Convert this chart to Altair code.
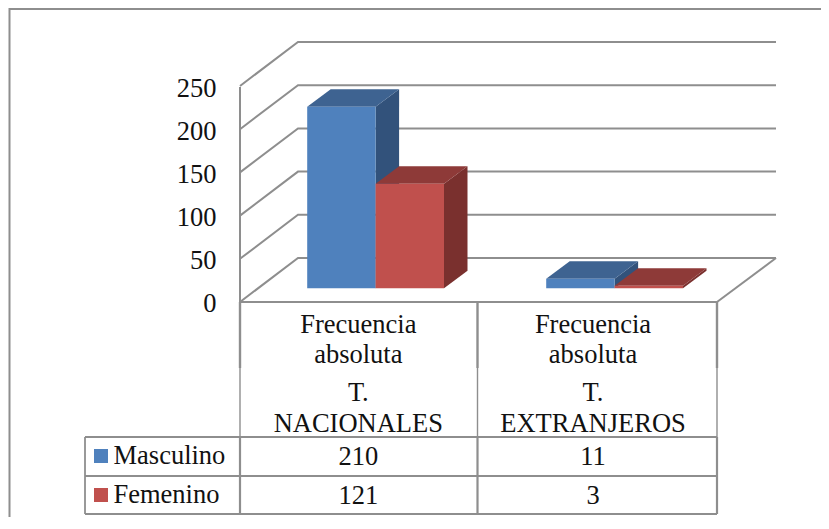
import altair as alt
import pandas as pd

# ---- values ----
categories = ["T. NACIONALES", "T. EXTRANJEROS"]
category_lines = [["Frecuencia", "absoluta", "T.", "NACIONALES"],
                  ["Frecuencia", "absoluta", "T.", "EXTRANJEROS"]]
series_names = ["Masculino", "Femenino"]
masculino = [210, 11]
femenino = [121, 3]
tick_values = [0, 50, 100, 150, 200, 250]

# ---- styling ----
front_colors = ["#4F81BD", "#C0504D"]
top_colors = ["#3E6391", "#8E3A38"]
side_colors = ["#32527B", "#7A302E"]
line_color = "#8E8E8E"
FONT = "Liberation Serif"
FS = 26.5

# ---- layout helpers (page pixels <-> value units) ----
PX_PER_UNIT = 0.864
W, H = 813, 509
Y0_PAGE = 302


def uy(page_y):
    return (Y0_PAGE - page_y) / PX_PER_UNIT


def ux(page_x):
    return page_x - 8


X = alt.X("x:Q", axis=None, scale=alt.Scale(domain=[0, W], range=[0, W], nice=False, zero=False))
Y = alt.Y("y:Q", axis=None, scale=alt.Scale(domain=[uy(8 + H), uy(8)], range=[H, 0], nice=False, zero=False))

lines_rows = []


def seg(pts, group, width):
    for i, (px, py) in enumerate(pts):
        lines_rows.append({"x": ux(px), "y": uy(py), "id": group, "o": i, "w": width})


# walls / gridlines
WALL_X0, WALL_DX, WALL_DY, WALL_X1 = 240, 58, 44, 776
for t in tick_values:
    y_f = Y0_PAGE - t * PX_PER_UNIT
    seg([(WALL_X0, y_f), (WALL_X0 + WALL_DX, y_f - WALL_DY), (WALL_X1, y_f - WALL_DY)], f"g{t}", 2)
seg([(240, 87), (240, 302)], "wall", 2)
seg([(717, 302), (776, 258)], "floor", 2)

# outer frame
seg([(9.5, 8 + H), (9.5, 9), (8 + W, 9)], "frame", 2)

# table
seg([(240, 302), (717, 302)], "t0", 2.2)
for i, (a, yy) in enumerate([(85, 437), (85, 476), (85, 514)]):
    seg([(a, yy), (717, yy)], f"h{i}", 2)
seg([(85, 437), (85, 514)], "v0", 1.8)
for i, xx in enumerate([240, 477.5, 717]):
    seg([(xx, 302), (xx, 368)], f"vt{i}", 2.4)
    seg([(xx, 368), (xx, 437)], f"vm{i}", 1.4)
    seg([(xx, 437), (xx, 514)], f"vb{i}", 2.2)

lines_df = pd.DataFrame(lines_rows)
lines = alt.Chart(lines_df).mark_line(color=line_color).encode(
    x=X, y=Y, detail="id:N", order="o:Q",
    strokeWidth=alt.StrokeWidth("w:Q", scale=None),
)

layers = [lines]

# bars
BAR_W = 68.4
GROUP_X = [307.2, 546.2]
BASE = 13.7 / PX_PER_UNIT
DEPTH_X = 23.5
DEPTH_Y = 17.5 / PX_PER_UNIT

for s, vals in enumerate([masculino, femenino]):
    side, top, front = [], [], []
    for c, v in enumerate(vals):
        x0 = ux(GROUP_X[c] + s * BAR_W)
        x1 = x0 + BAR_W
        t = BASE + v
        front.append({"x": x0, "x2": x1, "y": t, "y2": BASE, "c": categories[c]})
        side.append({"x": x1, "y": t, "y2": BASE, "c": categories[c]})
        side.append({"x": x1 + DEPTH_X, "y": t + DEPTH_Y, "y2": BASE + DEPTH_Y, "c": categories[c]})
        top.append({"x": x0, "x2": x1, "y": t, "c": categories[c]})
        top.append({"x": x0 + DEPTH_X, "x2": x1 + DEPTH_X, "y": t + DEPTH_Y, "c": categories[c]})
    layers.append(alt.Chart(pd.DataFrame(side)).mark_area(orient="vertical", color=side_colors[s]).encode(
        x=X, y=Y, y2="y2:Q", detail="c:N"))
    layers.append(alt.Chart(pd.DataFrame(top)).mark_area(orient="horizontal", color=top_colors[s]).encode(
        x=X, x2="x2:Q", y=Y, detail="c:N"))
    layers.append(alt.Chart(pd.DataFrame(front)).mark_rect(color=front_colors[s]).encode(
        x=X, x2="x2:Q", y=Y, y2="y2:Q"))

# legend keys
keys = pd.DataFrame([
    {"x": ux(94), "x2": ux(108), "y": uy(449), "y2": uy(463), "k": series_names[0]},
    {"x": ux(94), "x2": ux(108), "y": uy(488), "y2": uy(502), "k": series_names[1]},
])
layers.append(alt.Chart(keys).mark_rect().encode(
    x=X, x2="x2:Q", y=Y, y2="y2:Q",
    color=alt.Color("k:N", legend=None, scale=alt.Scale(domain=series_names, range=front_colors))))

# texts
text_rows = []
for i, t in enumerate(tick_values):
    text_rows.append({"x": ux(216.5), "y": uy(311.5 - 43 * i), "t": str(t), "a": "right"})
centers = [358.3, 593]
header_y = [333, 363, 401, 432]
for c, lines_c in enumerate(category_lines):
    for ln, yy in zip(lines_c, header_y):
        text_rows.append({"x": ux(centers[c]), "y": uy(yy), "t": ln, "a": "center"})
    text_rows.append({"x": ux(centers[c]), "y": uy(465), "t": str(masculino[c]), "a": "center"})
    text_rows.append({"x": ux(centers[c]), "y": uy(503.5), "t": str(femenino[c]), "a": "center"})
text_rows.append({"x": ux(113.5), "y": uy(464), "t": series_names[0], "a": "left"})
text_rows.append({"x": ux(113.5), "y": uy(503), "t": series_names[1], "a": "left"})
text_df = pd.DataFrame(text_rows)
for a in ["left", "center", "right"]:
    layers.append(alt.Chart(text_df[text_df.a == a]).mark_text(
        font=FONT, fontSize=FS, color="#111111", align=a, baseline="alphabetic").encode(
        x=X, y=Y, text="t:N"))

chart = alt.layer(*layers).properties(
    width=W, height=H, padding=0, autosize=alt.AutoSizeParams(type="none"), background="white"
).configure_view(stroke=None)

chart.save("out.html", embed_options={"renderer": "svg", "actions": False})
